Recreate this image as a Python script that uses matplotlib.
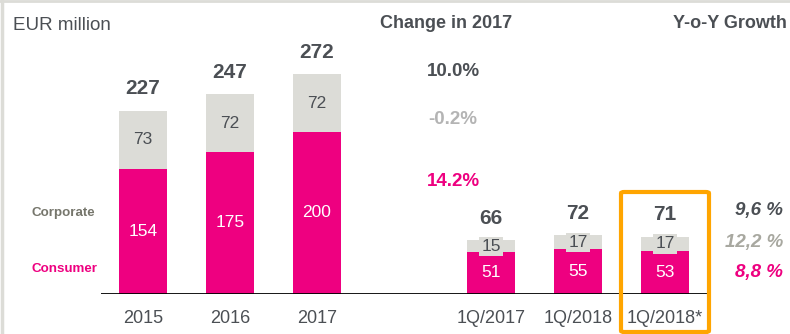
import numpy as np
import matplotlib.pyplot as plt
from matplotlib.lines import Line2D
from matplotlib.patches import FancyBboxPatch

plt.rcParams['font.family'] = ['Liberation Sans', 'DejaVu Sans']

# revenue split, EUR million
periods = ['2015', '2016', '2017', '1Q/2017', '1Q/2018', '1Q/2018*']
consumer = [154, 175, 200, 51, 55, 53]
corporate = [73, 72, 72, 15, 17, 17]
totals = [227, 247, 272, 66, 72, 71]

change_2017 = ['10.0%', '-0.2%', '14.2%']
yoy_growth = ['9,6 %', '12,2 %', '8,8 %']

MAGENTA = '#EE0080'
LIGHT = '#DCDCD7'
DARK = '#4B4F54'
W, H = 790, 334


def fx(x):
    return x / W


def fy(y):
    return 1 - y / H


fig = plt.figure(figsize=(7.9, 3.34), dpi=100)
ax = fig.add_axes([fx(101), fy(293.5), 606 / W, 241.8 / H])

pos = np.array([0, 1, 2, 4, 5, 6])
ax.bar(pos, consumer, width=0.55, color=MAGENTA, zorder=2)
ax.bar(pos, corporate, width=0.55, bottom=consumer, color=LIGHT, zorder=2)
ax.set_xlim(-0.483, 6.483)
ax.set_ylim(0, 300)
ax.axis('off')
ax.axhline(0, color='black', lw=2, zorder=3)

for i, p in enumerate(pos):
    quarter = i >= 3
    ax.text(p, consumer[i] / 2, str(consumer[i]), ha='center', va='center',
            color='white', fontsize=12.5)
    box = dict(boxstyle='square,pad=0.12', fc=LIGHT, ec='none') if quarter else None
    ax.text(p, consumer[i] + corporate[i] / 2, str(corporate[i]), ha='center',
            va='center', color=DARK, fontsize=12.5, bbox=box, zorder=4)
    ax.annotate(str(totals[i]), (p, totals[i]), xytext=(0, 9), textcoords='offset points',
                ha='center', va='bottom', color=DARK, fontsize=15, fontweight='bold')
    ax.text(p, -25 / 0.806, periods[i], ha='center', va='center', color=DARK, fontsize=13)

# headers
fig.text(fx(13), fy(25), 'EUR million', ha='left', va='center', color=DARK, fontsize=13.5)
fig.text(fx(446), fy(24), 'Change in 2017', ha='center', va='center', color=DARK,
         fontsize=13, fontweight='bold')
fig.text(fx(787), fy(24), 'Y-o-Y Growth', ha='right', va='center', color=DARK,
         fontsize=13, fontweight='bold')

# segment names
fig.text(fx(31), fy(213), 'Corporate', ha='left', va='center', color='#76766C',
         fontsize=9.6, fontweight='bold')
fig.text(fx(31), fy(269), 'Consumer', ha='left', va='center', color=MAGENTA,
         fontsize=9.6, fontweight='bold')

# change in 2017
for txt, y, c in zip(change_2017, [72, 119, 181], [DARK, '#B4B4B4', MAGENTA]):
    fig.text(fx(453), fy(y), txt, ha='center', va='center', color=c,
             fontsize=13.5, fontweight='bold')

# year-on-year growth of the quarter
for txt, y, c in zip(yoy_growth, [210, 242, 272], [DARK, '#A8A8A0', MAGENTA]):
    fig.text(fx(783), fy(y), txt, ha='right', va='center', color=c,
             fontsize=13.5, fontweight='bold', fontstyle='italic')

# highlight frame around the last quarter
frame = FancyBboxPatch((fx(621), fy(332)), fx(88), 140 / H,
                       boxstyle='round,pad=0,rounding_size=0.004',
                       transform=fig.transFigure, fill=False, ec='#FFA500', lw=3)
fig.add_artist(frame)

# slide border
fig.add_artist(Line2D([fx(1.5), fx(1.5)], [0, 1], color='#DCDCD7', lw=2.5))
fig.add_artist(Line2D([0, 1], [fy(0.5), fy(0.5)], color='#DCDCD7', lw=2))

fig.savefig('out.png', dpi=100)
